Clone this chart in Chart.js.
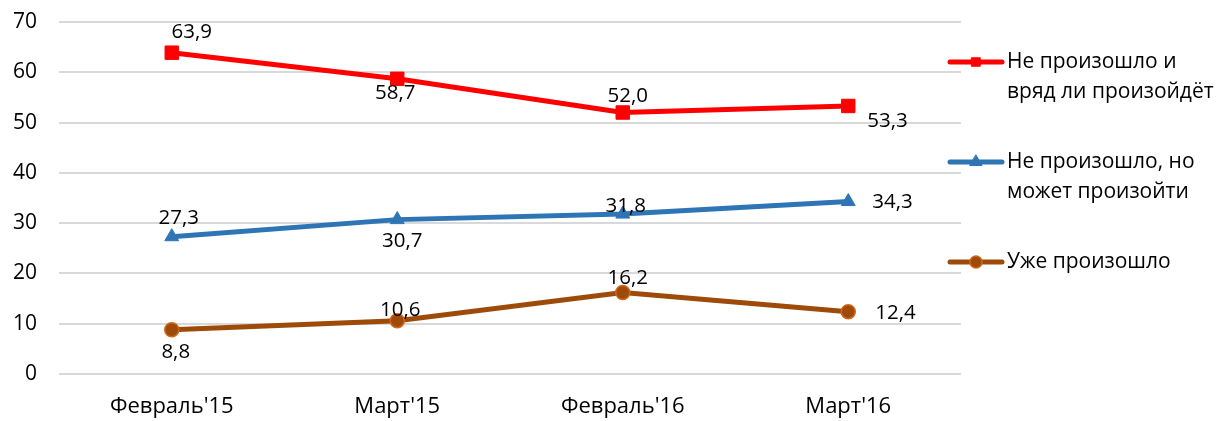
<!DOCTYPE html>
<html>
<head>
<meta charset="utf-8">
<script src="https://cdn.jsdelivr.net/npm/chart.js@4.4.1/dist/chart.umd.min.js"></script>
<style>
  html, body { margin: 0; padding: 0; background: #fff; }
  #wrap { width: 1216px; height: 421px; }
</style>
</head>
<body>
<div id="wrap"><canvas id="c" width="1216" height="421"></canvas></div>
<script>
// data
const categories = ["Февраль'15", "Март'15", "Февраль'16", "Март'16"];
const notHappenedUnlikely = [63.9, 58.7, 52.0, 53.3];
const notHappenedMay = [27.3, 30.7, 31.8, 34.3];
const alreadyHappened = [8.8, 10.6, 16.2, 12.4];
const seriesNames = [
  ["Не произошло и", "вряд ли произойдёт"],
  ["Не произошло, но", "может произойти"],
  ["Уже произошло"],
];
const yTicks = [0, 10, 20, 30, 40, 50, 60, 70];

// label nudges (px) from each point: centre for most, left edge for the last column
const labelDx = [
  [20, -2, 5, 19],
  [7, 5, 3, 24],
  [4, 3, 5, 27],
];
const labelDy = [
  [-22, 13, -18, 14],
  [-20, 20, -9, -1],
  [21, -12, -16, 0],
];

const FONT = "'Open Sans', 'Noto Sans', sans-serif";

const valueLabels = {
  id: "valueLabels",
  afterDatasetsDraw(chart) {
    const ctx = chart.ctx;
    ctx.save();
    ctx.font = "20.5px " + FONT;
    ctx.fillStyle = "#000";
    ctx.textBaseline = "alphabetic";
    chart.data.datasets.forEach((ds, di) => {
      const meta = chart.getDatasetMeta(di);
      meta.data.forEach((pt, i) => {
        const txt = ds.data[i].toFixed(1).replace(".", ",");
        const last = i === meta.data.length - 1;
        ctx.textAlign = last ? "left" : "center";
        ctx.fillText(txt, pt.x + labelDx[di][i], pt.y + labelDy[di][i] + 7);
      });
    });
    ctx.restore();
  }
};

const sideLegend = {
  id: "sideLegend",
  afterDraw(chart) {
    const ctx = chart.ctx;
    const rows = [62, 162, 262];
    ctx.save();
    chart.data.datasets.forEach((ds, di) => {
      const y = rows[di];
      ctx.strokeStyle = ds.borderColor;
      ctx.lineWidth = 5;
      ctx.lineCap = "round";
      ctx.beginPath();
      ctx.moveTo(950, y);
      ctx.lineTo(1002, y);
      ctx.stroke();
      ctx.fillStyle = ds.pointBackgroundColor;
      ctx.strokeStyle = ds.pointBorderColor;
      ctx.lineWidth = ds.pointBorderWidth;
      Chart.helpers.drawPoint(ctx, {
        pointStyle: ds.pointStyle,
        radius: ds.pointStyle === "rect" ? 6 : ds.pointRadius - 1,
        borderWidth: ds.pointBorderWidth
      }, 976, y);
      ctx.font = "21px " + FONT;
      ctx.fillStyle = "#000";
      ctx.textAlign = "left";
      ctx.textBaseline = "middle";
      seriesNames[di].forEach((line, li) => {
        ctx.fillText(line, 1007, y + li * 30);
      });
    });
    ctx.restore();
  }
};

function lineSet(label, data, color, style, radius, ptBorder) {
  return {
    label,
    data,
    borderColor: color,
    borderWidth: 5,
    pointStyle: style,
    pointRadius: radius,
    pointHoverRadius: radius,
    pointBackgroundColor: color,
    pointBorderColor: ptBorder || color,
    pointBorderWidth: ptBorder ? 1.5 : 1,
    tension: 0,
    fill: false,
  };
}

new Chart(document.getElementById("c"), {
  type: "line",
  data: {
    labels: categories,
    datasets: [
      lineSet(seriesNames[0].join(" "), notHappenedUnlikely, "#ff0000", "rect", 9.5),
      lineSet(seriesNames[1].join(" "), notHappenedMay, "#2e75b6", "triangle", 8),
      lineSet(seriesNames[2].join(" "), alreadyHappened, "#9e4a08", "circle", 7, "#d0661a"),
    ]
  },
  options: {
    responsive: false,
    animation: false,
    devicePixelRatio: 1,
    layout: { padding: { top: 22, right: 255, left: 0, bottom: 0 } },
    plugins: {
      legend: { display: false },
      tooltip: { enabled: false },
    },
    scales: {
      x: {
        offset: true,
        grid: { display: false },
        border: { display: false },
        ticks: {
          font: { family: FONT, size: 22 },
          color: "#000",
          padding: 12,
          maxRotation: 0,
          autoSkip: false,
        },
        afterFit(s) { s.height = 47; },
      },
      y: {
        min: 0,
        max: 70,
        afterBuildTicks(s) { s.ticks = yTicks.map(v => ({ value: v })); },
        grid: { color: "#d9d9d9", lineWidth: 2, drawTicks: false },
        border: { display: false },
        ticks: {
          font: { family: FONT, size: 21 },
          color: "#000",
          padding: 22,
        },
        afterFit(s) { s.width = 59; s.paddingTop = 0; s.paddingBottom = 0; },
      }
    }
  },
  plugins: [valueLabels, sideLegend]
});
</script>
</body>
</html>
